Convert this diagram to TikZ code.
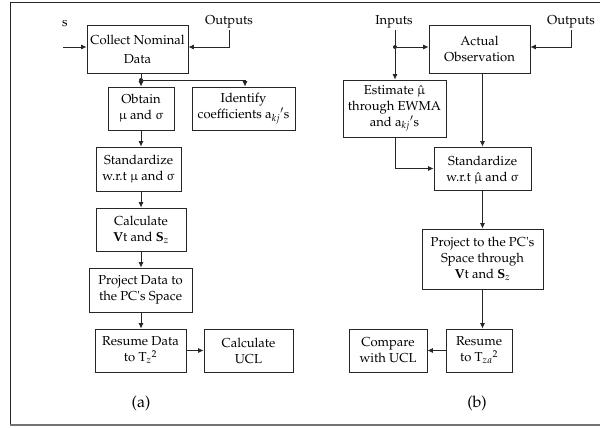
\documentclass[tikz,border=0pt]{standalone}
\usepackage[T1]{fontenc}
\usepackage{mathpazo}
\usepackage{upgreek}
\usetikzlibrary{arrows.meta}

\begin{document}
\begin{tikzpicture}[x=1pt, y=-1pt, line width=0.8pt, draw=black!85,
  box/.style={draw, rectangle, inner sep=0pt, align=center, font=\fontsize{13}{16}\selectfont},
  lbl/.style={inner sep=1pt, font=\fontsize{13}{16}\selectfont},
  subcap/.style={inner sep=1pt, font=\fontsize{16}{18}\selectfont},
  arr/.style={-{Latex[length=5.5pt,width=5pt]}},
  dot/.style={circle, fill=black!85, inner sep=0pt, minimum size=4pt}]
\useasboundingbox (0,0) rectangle (600,428);
\draw[black!85] (600,2) -- (10,2) -- (10,425);
\draw[black!55, line width=1.2pt] (10,425) -- (600,425);

% (a)
\node[box, minimum width=101, minimum height=48] (collect) at (137.5,49) {Collect Nominal\\[3pt]Data};
\node[box, minimum width=66, minimum height=43] (obtain) at (141,108.5) {Obtain\\$\upmu$ and $\upsigma$};
\node[box, minimum width=103, minimum height=43] (identify) at (243.5,108.5) {Identify\\coefficients a$_{kj}{}'$s};
\node[box, minimum width=85, minimum height=44] (stda) at (138.5,169) {Standardize\\w.r.t $\upmu$ and $\upsigma$};
\node[box, minimum width=90, minimum height=43] (calc) at (141,229.5) {Calculate\\\textbf{V}t and \textbf{S}$_z$};
\node[box, minimum width=103, minimum height=44] (proja) at (140.5,290) {Project Data to\\the PC\textquotesingle s Space};
\node[box, minimum width=91, minimum height=43] (resa) at (140.5,350.5) {Resume Data\\to T$_z{}^{2}$};
\node[box, minimum width=89, minimum height=43] (ucl) at (248.5,350.5) {Calculate\\UCL};
\node[lbl] (ina) at (65,23) {s};
\node[lbl] (outa) at (229,22) {Outputs};
\node[dot] (dota) at (141,80) {};
\coordinate (inastart) at (63,47);
\node[subcap] (capa) at (141,403) {(a)};

\draw[arr] (inastart) -- (collect.west |- inastart);
\draw[arr] (outa.south) |- (collect.east |- inastart);
\draw (dota |- collect.south) -- (dota);
\draw[arr] (dota) -- (dota |- obtain.north);
\draw[arr] (dota) -| ([xshift=1.5pt]identify.north);
\draw[arr] (dota |- obtain.south) -- (dota |- stda.north);
\draw[arr] (dota |- stda.south) -- (dota |- calc.north);
\draw[arr] (dota |- calc.south) -- (dota |- proja.north);
\draw[arr] (dota |- proja.south) -- (dota |- resa.north);
\draw[arr] (resa.east) -- (ucl.west);

% (b)
\node[box, minimum width=101, minimum height=48] (actual) at (479.5,49) {Actual\\Observation};
\node[box, minimum width=103, minimum height=57] (est) at (394.5,108.5) {Estimate $\smash{\hat{\upmu}}$\\through EWMA\\and a$_{kj}{}'$s};
\node[box, minimum width=97, minimum height=43] (stdb) at (482.5,168.5) {Standardize\\w.r.t $\smash{\hat{\upmu}}$ and $\upsigma$};
\node[box, minimum width=121, minimum height=60] (projb) at (482.5,259) {Project to the PC\textquotesingle s\\Space through\\\textbf{V}t and \textbf{S}$_z$};
\node[box, minimum width=66, minimum height=43] (resb) at (479,350.5) {Resume\\to T$_{za}{}^{2}$};
\node[box, minimum width=78, minimum height=43] (cmp) at (388,350.5) {Compare\\with UCL};
\node[lbl] (inb) at (394,22) {Inputs};
\node[lbl] (outb) at (571,22) {Outputs};
\node[dot] (dotb) at (395,47) {};
\node[subcap] (capb) at (477,403) {(b)};

\draw (inb.south -| dotb) -- (dotb);
\draw[arr] (dotb) -- (dotb |- est.north);
\draw[arr] (dotb) -- (dotb -| actual.west);
\draw[arr] (outb.south) |- (actual.east |- dotb);
\draw[arr] (stdb.north |- actual.south) -- (stdb.north);
\draw[arr] (dotb |- est.south) |- (stdb.west);
\draw[arr] (stdb.south) -- (projb.north);
\draw[arr] (projb.south) -- (projb.south |- resb.north);
\draw[arr] (resb.west) -- (cmp.east);
\end{tikzpicture}
\end{document}
